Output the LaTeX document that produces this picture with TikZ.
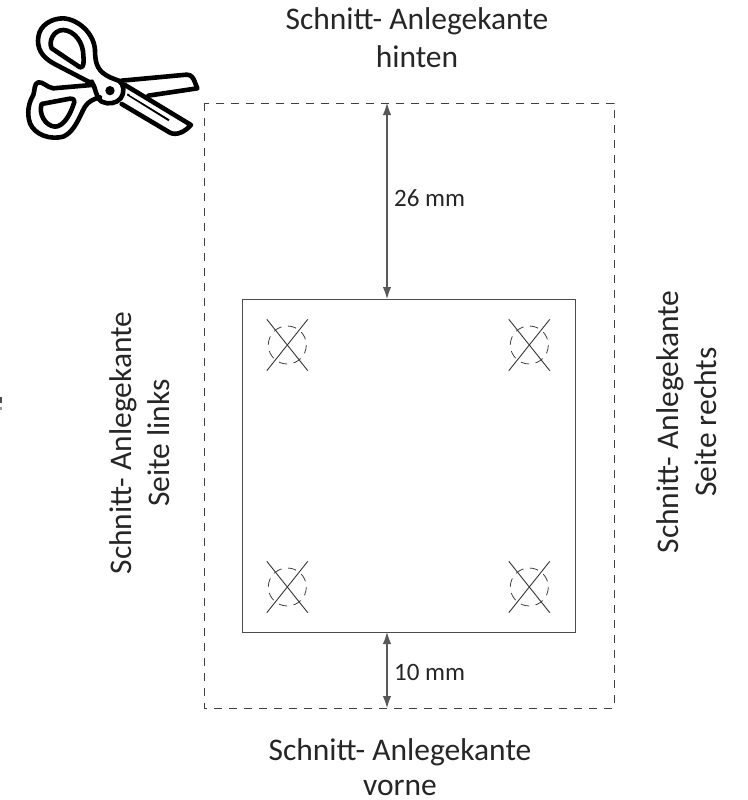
\documentclass[tikz,border=0pt]{standalone}
\usepackage{fontspec}
\setmainfont{Carlito}
\usetikzlibrary{arrows.meta}
\tikzset{
  kante/.style={font=\fontsize{31.5}{38}\selectfont,align=center,text=black!85,inner sep=0pt},
  mass/.style={font=\fontsize{25}{30}\selectfont,text=black!85,inner sep=0pt,anchor=west},
  massarrow/.style={{Latex[length=12pt,width=8.5pt]}-{Latex[length=12pt,width=8.5pt]},black!65,line width=1.1pt},
  schnitt/.style={draw=black!75,line width=0.9pt,dash pattern=on 8pt off 7pt},
  platte/.style={draw=black!70,line width=0.9pt},
  kreuz/.style={draw=black!80,line width=0.9pt},
  loch/.style={draw=black!75,line width=0.8pt,dash pattern=on 8.5pt off 6.5pt},
  griff/.style={line width=4.6pt,line join=round,line cap=round}
}
\begin{document}
\begin{tikzpicture}[x=1pt,y=-1pt]
\useasboundingbox (0,0) rectangle (747,800);
\newcommand{\lochmark}[2]{
\draw [kreuz] (#1-20.5,#2-25.7) -- (#1+20.5,#2+25.7);
\draw [kreuz] (#1-20.5,#2+25.7) -- (#1+20.5,#2-25.7);
\draw [loch] (#1,#2) circle (19);
}
% rectangles
\draw [schnitt] (204,103) rectangle (614,708);
\draw [platte] (242,299) rectangle (575,632);
% marks
\lochmark{287.3}{345}
\lochmark{529.3}{345}
\lochmark{287.3}{587}
\lochmark{529.3}{587}
% measures
\coordinate (hintenmitte) at (387,103);
\coordinate (platteoben) at (387,299);
\coordinate (platteunten) at (387,632);
\coordinate (vornemitte) at (387,708);
\draw [massarrow] (hintenmitte) -- (platteoben);
\draw [massarrow] (platteunten) -- (vornemitte);
\node [mass] (masshinten) at (394,198) {26 mm};
\node [mass] (massvorne) at (394,672) {10 mm};
% labels
\node [kante] (hinten) at (417,38) {Schnitt- Anlegekante\\hinten};
\node [kante] (vorne) at (400,767) {Schnitt- Anlegekante\\[-3pt]vorne};
\node [kante,rotate=90] (links) at (140,443) {Schnitt- Anlegekante\\Seite links};
\node [kante,rotate=90] (rechts) at (687,422) {Schnitt- Anlegekante\\Seite rechts};
% scissors
\begin{scope}[shift={(20,0)},x=0.3333pt,y=-0.3333pt]
\draw [griff] (215,250) -- (100,190) .. controls (65,170) and (50,145) .. (55,110) .. controls (60,75) and (95,55) .. (130,55) .. controls (175,58) and (222,100) .. (225,150) .. controls (225,195) and (235,215) .. (270,232) -- (298,243);
\draw [griff] (95,145) .. controls (85,125) and (100,90) .. (130,90) .. controls (165,92) and (190,130) .. (190,165) .. controls (192,185) and (192,205) .. (180,202) -- cycle;
\draw [griff] (215,255) -- (100,265) .. controls (80,262) and (70,245) .. (55,247) .. controls (42,250) and (45,270) .. (40,285) .. controls (25,310) and (20,340) .. (30,370) .. controls (45,405) and (90,420) .. (130,410) .. controls (165,395) and (180,345) .. (195,320) .. controls (205,305) and (220,297) .. (240,292);
\draw [griff] (65,312) -- (150,296) .. controls (165,295) and (165,305) .. (160,315) .. controls (150,345) and (130,380) .. (105,380) .. controls (75,378) and (55,340) .. (65,312) -- cycle;
\draw [griff] (215,245) .. controls (228,262) and (225,290) .. (245,305) .. controls (265,315) and (290,310) .. (302,295) .. controls (315,275) and (312,255) .. (298,243);
\fill (270,272) circle (14);
\draw [griff] (305,242) -- (500,224) .. controls (515,224) and (520,235) .. (524,245) -- (532,265) -- (385,287);
\draw [griff] (305,312) -- (450,398) .. controls (470,408) and (495,395) .. (513,375) -- (315,255);
\draw [line width=2pt] (322,283) -- (447,361);
\draw [white,line width=1.5pt] (330,283) -- (445,352);
\end{scope}
% clipped remnant at the left edge
\fill [black!70] (0,397) rectangle (2,403);
\fill [black!40] (0,407) rectangle (1.5,410);
\end{tikzpicture}
\end{document}
